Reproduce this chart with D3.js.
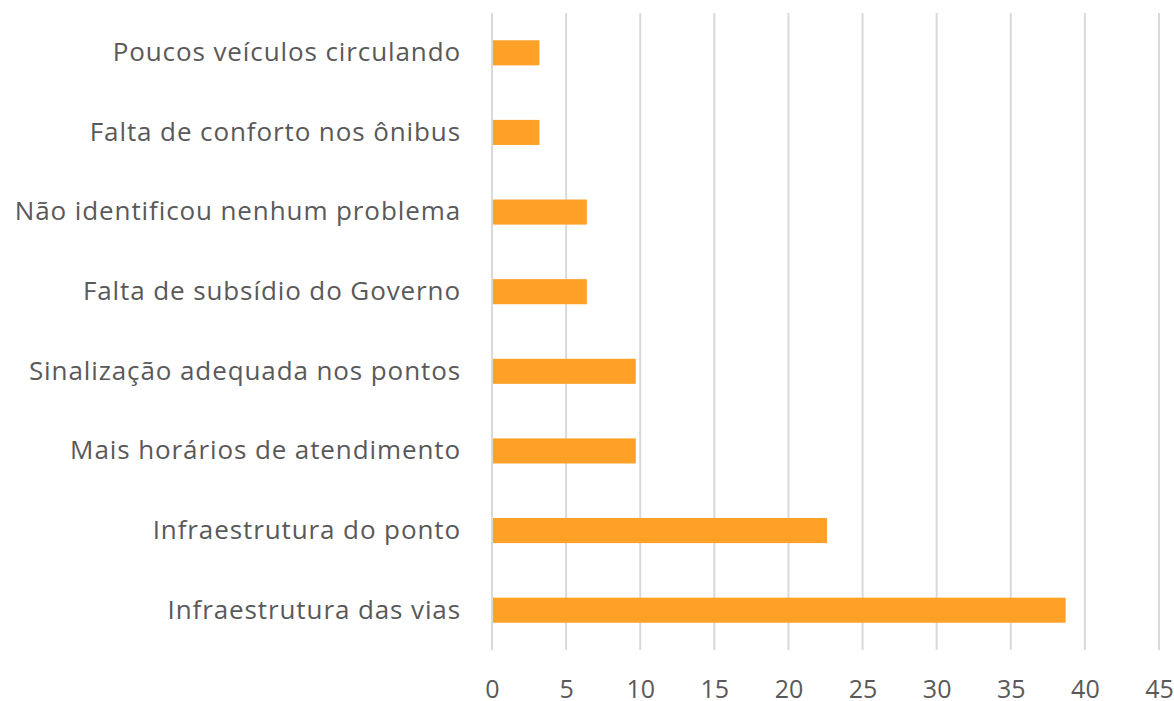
<!DOCTYPE html>
<html>
<head>
<meta charset="utf-8">
<script src="https://cdn.jsdelivr.net/npm/d3@7"></script>
<style>
  body { margin: 0; background: #fff; }
  text { font-family: "Open Sans", sans-serif; fill: #595959; }
</style>
</head>
<body>
<div id="chart"></div>
<script>
// categories top to bottom, values in %
const categories = [
  "Poucos veículos circulando",
  "Falta de conforto nos ônibus",
  "Não identificou nenhum problema",
  "Falta de subsídio do Governo",
  "Sinalização adequada nos pontos",
  "Mais horários de atendimento",
  "Infraestrutura do ponto",
  "Infraestrutura das vias"
];
const values = [3.2, 3.2, 6.4, 6.4, 9.7, 9.7, 22.6, 38.7];
const ticks = [0, 5, 10, 15, 20, 25, 30, 35, 40, 45];

const margin = { top: 13, right: 15, bottom: 51, left: 492 },
      width = 1174 - margin.left - margin.right,
      height = 701 - margin.top - margin.bottom;

const svg = d3.select("#chart").append("svg")
    .attr("width", 1174)
    .attr("height", 701)
  .append("g")
    .attr("transform", "translate(" + margin.left + "," + margin.top + ")");

const x = d3.scaleLinear().domain([0, 45]).range([0, width]);
const y = d3.scaleBand().domain(categories).range([0, height]).paddingInner(0.685).paddingOuter(0.3425);

// gridlines
svg.selectAll(".grid")
  .data(ticks)
  .enter().append("line")
  .attr("x1", d => x(d)).attr("x2", d => x(d))
  .attr("y1", 0).attr("y2", height)
  .style("stroke", "#d9d9d9")
  .style("stroke-width", 2);

svg.selectAll(".bar")
  .data(values)
  .enter().append("rect")
  .attr("x", x(0) + 1)
  .attr("y", (d, i) => y(categories[i]))
  .attr("width", d => x(d) - x(0) - 1)
  .attr("height", y.bandwidth())
  .style("fill", "#ffa126");

// x axis labels
const xAxis = svg.append("g")
  .attr("transform", "translate(0," + height + ")")
  .call(d3.axisBottom(x).tickValues(ticks).tickSize(0).tickPadding(30));
xAxis.select(".domain").remove();
xAxis.selectAll("text").style("font-size", "25px").style("font-family", "Open Sans, sans-serif").style("fill", "#595959");

// y axis labels
const yAxis = svg.append("g")
  .call(d3.axisLeft(y).tickSize(0).tickPadding(31));
yAxis.select(".domain").remove();
yAxis.selectAll("text").style("font-size", "26px").style("letter-spacing", "0.9px")
  .style("font-family", "Open Sans, sans-serif").style("fill", "#595959");
</script>
</body>
</html>
